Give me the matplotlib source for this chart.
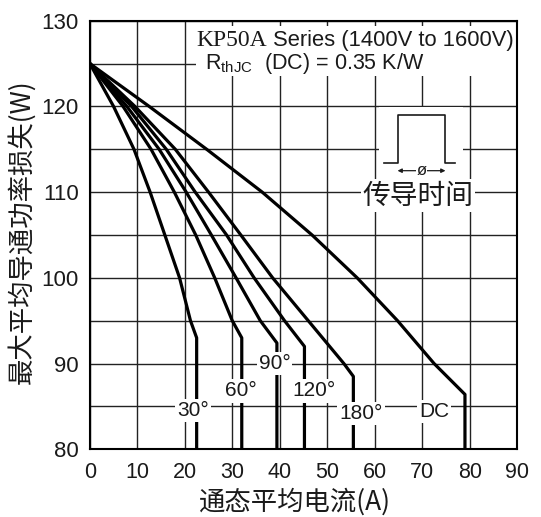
import numpy as np
import matplotlib
matplotlib.use("Agg")
import matplotlib.pyplot as plt
from matplotlib.patches import Rectangle

plt.rcParams['font.family'] = ['Liberation Sans', 'Noto Sans CJK SC', 'DejaVu Sans']
plt.rcParams['mathtext.fontset'] = 'custom'
plt.rcParams['mathtext.rm'] = 'Liberation Sans'

# curves: average on-state current (A) vs max average power loss (W)
p_30 = [125, 120, 115, 110, 105, 100, 95, 93.0, 80]
i_30 = [0, 5.0, 9.3, 12.7, 15.8, 18.9, 21.2, 22.5, 22.5]

p_60 = [125, 120, 115, 110, 105, 100, 95, 93.0, 80]
i_60 = [0, 7.0, 12.9, 17.8, 22.3, 26.3, 30.0, 32.0, 32.0]

p_90 = [125, 120, 115, 110, 105, 100, 95, 92.4, 80]
i_90 = [0, 7.8, 14.6, 20.3, 25.6, 30.8, 35.9, 39.4, 39.4]

p_120 = [125, 120, 115, 110, 105, 100, 95, 92.0, 80]
i_120 = [0, 8.8, 16.1, 22.2, 28.8, 34.6, 41.0, 45.2, 45.2]

p_180 = [125, 120, 115, 110, 105, 100, 95, 90, 88.5, 80]
i_180 = [0, 9.5, 18.0, 25.0, 31.8, 38.5, 46.0, 53.5, 55.5, 55.5]

p_dc = [125, 120, 115, 110, 105, 100, 95, 90, 86.4, 80]
i_dc = [0, 12.5, 24.6, 36.3, 46.8, 56.3, 64.8, 72.5, 79.0, 79.0]

series = [(i_30, p_30), (i_60, p_60), (i_90, p_90),
          (i_120, p_120), (i_180, p_180), (i_dc, p_dc)]

labels = ['30°', '60°', '90°', '120°', '180°', 'DC']
label_x = [21.8, 31.8, 38.9, 47.2, 57.1, 72.5]
label_y = [84.5, 86.8, 90.0, 86.8, 84.2, 84.4]

fig = plt.figure(figsize=(5.41, 5.17), dpi=100)
ax = fig.add_axes([0.166, 0.131, 0.790, 0.829])

for xs, ys in series:
    ax.plot(xs, ys, color='black', lw=2.3, solid_joinstyle='round', zorder=3)

ax.set_xlim(0, 90)
ax.set_ylim(80, 130)
ax.set_xticks(np.arange(0, 91, 10))
ax.set_yticks(np.arange(80, 131, 10))
ax.set_yticks(np.arange(85, 130, 10), minor=True)
ax.grid(True, which='both', color='#222222', lw=1.0, zorder=1)
ax.tick_params(which='both', length=0)
ax.tick_params(axis='y', labelsize=16, pad=8, labelcolor='#1a1a1a')
ax.tick_params(axis='x', labelsize=15.5, pad=9, labelcolor='#1a1a1a')
for s in ax.spines.values():
    s.set_linewidth(1.5)
    s.set_zorder(5)

# angle labels
for t, x, y in zip(labels, label_x, label_y):
    ax.text(x, y, t, fontsize=15, ha='center', va='center', color='#1a1a1a',
            bbox=dict(facecolor='white', edgecolor='none', pad=1.5), zorder=4)

# header block
ax.add_patch(Rectangle((22.3, 123.6), 67.7, 5.8, facecolor='white',
                       edgecolor='none', zorder=2))
ax.text(22.5, 127.7, 'KP50A', fontsize=17, family='Liberation Serif',
        ha='left', va='center', color='#1a1a1a', zorder=4)
ax.text(38.6, 127.7, 'Series (1400V to 1600V)', fontsize=15.8,
        ha='left', va='center', color='#1a1a1a', zorder=4)
ax.text(24.3, 125.0, r'$\mathregular{R_{thJC}}$  (DC) = 0.35 K/W', fontsize=15.5,
        ha='left', va='center', color='#1a1a1a', zorder=4)

# conduction-time symbol
ax.add_patch(Rectangle((61.0, 111.3), 17.5, 8.6, facecolor='white',
                       edgecolor='none', zorder=2))
ax.plot([62.0, 64.8, 64.8, 74.9, 74.9, 77.0],
        [113.4, 113.4, 119.0, 119.0, 113.4, 113.4],
        color='#1a1a1a', lw=1.2, zorder=3)
ax.annotate('', xy=(64.8, 112.5), xytext=(74.9, 112.5),
            arrowprops=dict(arrowstyle='<|-|>', color='#1a1a1a', lw=0.9,
                            mutation_scale=6, shrinkA=0, shrinkB=0), zorder=3)
ax.text(69.85, 112.5, 'ø', fontsize=12, ha='center', va='center', color='#1a1a1a',
        bbox=dict(facecolor='white', edgecolor='none', pad=0.5), zorder=4)
ax.text(69.1, 109.6, '传导时间', fontsize=20, ha='center', va='center',
        family=['Noto Sans CJK SC', 'DejaVu Sans'], color='#1a1a1a',
        bbox=dict(facecolor='white', edgecolor='none', pad=1.5), zorder=4)

fig.text(22 / 541, 1 - 232 / 517, '最大平均导通功率损失(W)', rotation=90,
         fontsize=19, ha='center', va='center', color='#1a1a1a',
         family=['Noto Sans CJK SC', 'DejaVu Sans'])
fig.text(295 / 541, 1 - 502 / 517, '通态平均电流(A)', fontsize=19,
         ha='center', va='center', color='#1a1a1a',
         family=['Noto Sans CJK SC', 'DejaVu Sans'])

fig.savefig('out.png', dpi=100)
